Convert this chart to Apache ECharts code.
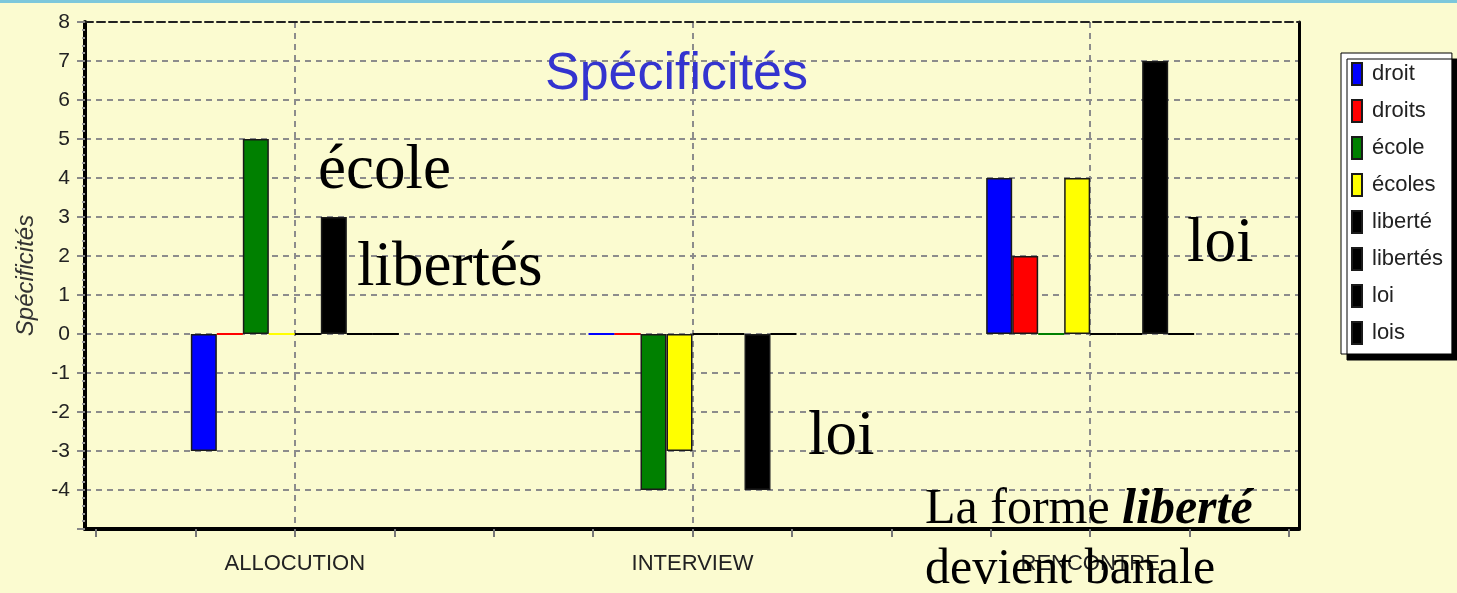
<!DOCTYPE html>
<html><head><meta charset="utf-8">
<script src="https://cdn.jsdelivr.net/npm/echarts@6/dist/echarts.min.js"></script>
<style>html,body{margin:0;padding:0;background:#FBFBD0;} #c{width:1457px;height:593px;}</style>
</head><body><div id="c"></div>
<script>
const categories = ['ALLOCUTION', 'INTERVIEW', 'RENCONTRE'];
const seriesNames = ['droit', 'droits', 'école', 'écoles', 'liberté', 'libertés', 'loi', 'lois'];
const droit    = [-3,  0, 4];
const droits   = [ 0,  0, 2];
const ecole    = [ 5, -4, 0];
const ecoles   = [ 0, -3, 4];
const liberte  = [ 0,  0, 0];
const libertes = [ 3,  0, 0];
const loi      = [ 0, -4, 7];
const lois     = [ 0,  0, 0];
const seriesColors = ['#0000FF', '#FF0000', '#008000', '#FFFF00', '#000000', '#000000', '#000000', '#000000'];
const yMin = -5, yMax = 8;

const values = [droit, droits, ecole, ecoles, liberte, libertes, loi, lois];
const FONT = '"Liberation Sans", Arial, sans-serif';
const SERIF = '"Liberation Serif", "Times New Roman", serif';

const series = seriesNames.map((n, i) => ({
  name: n, type: 'bar', xAxisIndex: 0, yAxisIndex: 0,
  barWidth: 26, barGap: '0%',
  itemStyle: { color: seriesColors[i], borderColor: '#1a1a1a', borderWidth: 1.5 },
  data: values[i].map(v => v === 0 ? { value: 0, itemStyle: { borderColor: seriesColors[i], borderWidth: 2 } } : v),
  emphasis: { disabled: true },
  animation: false
}));

const chart = echarts.init(document.getElementById('c'), null, { renderer: 'canvas' });
chart.setOption({
  backgroundColor: '#FBFBD0',
  animation: false,
  title: {
    text: 'Spécificités', left: 545, top: 49, padding: 0,
    textStyle: { color: '#3434CF', fontSize: 52, fontWeight: 'normal', fontFamily: FONT }
  },
  legend: {
    orient: 'vertical', left: 1341, top: 53,
    itemWidth: 10, itemHeight: 22, itemGap: 13,
    padding: [9, 9, 9, 10],
    backgroundColor: '#ffffff', borderColor: '#000', borderWidth: 1,
    shadowColor: '#000', shadowOffsetX: 6, shadowOffsetY: 6, shadowBlur: 0,
    icon: 'rect', selectedMode: false,
    textStyle: { fontSize: 22, color: '#222', fontFamily: FONT, padding: [0, 0, 0, 5] }
  },
  grid: [
    { left: 96, right: 168, top: 22, bottom: 64 },
    { left: 85, right: 158, top: 22, bottom: 64 }
  ],
  xAxis: [
    { type: 'category', gridIndex: 0, data: categories, position: 'bottom',
      axisLine: { show: false, onZero: false }, axisTick: { show: false }, splitLine: { show: false },
      axisLabel: { margin: 24, fontSize: 22, color: '#222', fontFamily: FONT } },
    { type: 'value', gridIndex: 0, min: 0, max: 12, interval: 1, position: 'bottom',
      axisLine: { show: false, onZero: false }, axisLabel: { show: false },
      axisTick: { show: true, length: 8, lineStyle: { color: '#777', width: 2 } },
      splitLine: { show: true, lineStyle: { color: ['transparent', 'transparent', '#8c8c8c', 'transparent'], type: [6, 5], width: 2 } } },
    { type: 'value', gridIndex: 1, min: 0, max: 1, position: 'bottom',
      axisLine: { show: true, onZero: false, lineStyle: { color: '#000', width: 4 } },
      axisTick: { show: false }, axisLabel: { show: false }, splitLine: { show: false } },
    { type: 'value', gridIndex: 1, min: 0, max: 1, position: 'top',
      axisLine: { show: true, onZero: false, lineStyle: { color: '#222', width: 2, type: [8, 4] } },
      axisTick: { show: false }, axisLabel: { show: false }, splitLine: { show: false } }
  ],
  yAxis: [
    { type: 'value', gridIndex: 0, min: yMin, max: yMax, interval: 1, show: false },
    { type: 'value', gridIndex: 1, min: yMin, max: yMax, interval: 1, position: 'left',
      axisLine: { show: true, onZero: false, lineStyle: { color: '#000', width: 4 } },
      axisTick: { show: true, length: 8, lineStyle: { color: '#888', width: 2 } },
      minorTick: { show: true, splitNumber: 5, length: 3, lineStyle: { color: '#999', width: 2 } },
      axisLabel: { margin: 15, fontSize: 21, color: '#222', fontFamily: FONT,
        formatter: v => (v === yMin ? '' : String(v)) },
      splitLine: { show: true, showMaxLine: false, lineStyle: { color: '#8c8c8c', type: [6, 5], width: 2 } },
      name: 'Spécificités', nameLocation: 'middle', nameGap: 47,
      nameTextStyle: { fontStyle: 'italic', fontSize: 24, color: '#333', fontFamily: FONT } },
    { type: 'value', gridIndex: 1, min: yMin, max: yMax, position: 'right',
      axisLine: { show: true, onZero: false, lineStyle: { color: '#000', width: 3 } },
      axisTick: { show: false }, axisLabel: { show: false }, splitLine: { show: false } }
  ],
  series: series,
  graphic: [
    { type: 'rect', x: 0, y: 0, z: 100, shape: { width: 1457, height: 3 }, style: { fill: '#7CC7DB' } },
    { type: 'text', x: 318, y: 171, z: 100, style: { text: 'école', fontSize: 63, fontFamily: SERIF, fill: '#000', verticalAlign: 'middle' } },
    { type: 'text', x: 357, y: 268, z: 100, style: { text: 'libertés', fontSize: 63, fontFamily: SERIF, fill: '#000', verticalAlign: 'middle' } },
    { type: 'text', x: 808, y: 437, z: 100, style: { text: 'loi', fontSize: 63, fontFamily: SERIF, fill: '#000', verticalAlign: 'middle' } },
    { type: 'text', x: 1187, y: 244, z: 100, style: { text: 'loi', fontSize: 63, fontFamily: SERIF, fill: '#000', verticalAlign: 'middle' } },
    { type: 'text', x: 925, y: 480, z: 100, style: {
        text: 'La forme {b|liberté}\ndevient banale', fontSize: 50, fontFamily: SERIF, lineHeight: 60, fill: '#000', verticalAlign: 'top',
        rich: { b: { fontSize: 50, fontFamily: SERIF, fontWeight: 'bold', fontStyle: 'italic', lineHeight: 60, fill: '#000' } } } }
  ]
});
</script></body></html>
